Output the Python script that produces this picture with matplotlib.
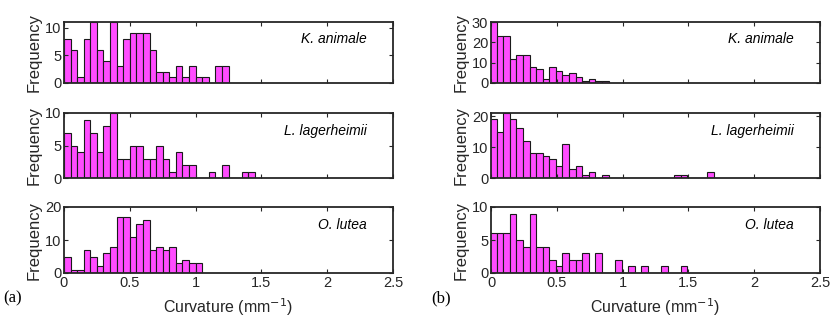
import numpy as np
import matplotlib
matplotlib.use("Agg")
import matplotlib.pyplot as plt

plt.rcParams['font.family'] = ['Liberation Sans', 'DejaVu Sans']

species = ['K. animale', 'L. lagerheimii', 'O. lutea']
bin_width = 0.05

# (a) counts per 0.05 bin, starting at 0
counts_a = [
    [8, 6, 1, 8, 11, 6, 4, 11, 3, 8, 9, 9, 9, 6, 2, 2, 1, 3, 1, 3, 1, 1, 0, 3, 3],
    [7, 5, 4, 9, 7, 4, 8, 10, 3, 3, 5, 5, 3, 3, 5, 3, 1, 4, 2, 2, 0, 0, 1, 0, 2, 0, 0, 1, 1],
    [5, 1, 1, 7, 5, 2, 6, 8, 17, 17, 11, 15, 16, 7, 8, 7, 8, 3, 4, 3, 3],
]
# (b) counts per 0.05 bin, first edge slightly below 0
counts_b = [
    [30, 23, 23, 12, 14, 14, 8, 7, 2, 8, 6, 4, 5, 3, 1, 2, 1, 1],
    [19, 15, 21, 19, 16, 12, 8, 8, 7, 6, 4, 11, 3, 4, 1, 2, 0, 1, 0, 0, 0, 0, 0, 0, 0,
     0, 0, 0, 1, 1, 0, 0, 0, 2],
    [6, 6, 6, 9, 5, 4, 9, 4, 4, 2, 1, 3, 2, 2, 3, 0, 3, 0, 0, 2, 0, 1, 0, 1, 0, 0, 1,
     0, 0, 1],
]
start_a = 0.0
start_b = -0.007

ylims_a = [11, 10, 20]
ylims_b = [30, 21, 10]
yticks_a = [[0, 5, 10], [0, 5, 10], [0, 10, 20]]
yticks_b = [[0, 10, 20, 30], [0, 10, 20], [0, 5, 10]]

xticks = [0, 0.5, 1, 1.5, 2, 2.5]
xticklabels = ['0', '0.5', '1', '1.5', '2', '2.5']

face = '#FF4CFF'
edge = '#1a1a1a'
axcol = '#262626'

fig = plt.figure(figsize=(8.31, 3.2), dpi=100)

# rows in pixels (top, bottom)
rows = [(22, 83), (113, 178), (207, 273)]
cols = [64, 491]
W, H = 831.0, 320.0
axw = 329


def draw_panel(ax, counts, start, ylim, yt, name, last):
    counts = np.array(counts)
    edges = start + bin_width * np.arange(len(counts) + 1)
    ax.hist(edges[:-1] + bin_width / 2, bins=edges, weights=counts,
            color=face, edgecolor=edge, linewidth=0.8)
    ax.set_xlim(0, 2.5)
    ax.set_ylim(0, ylim)
    ax.set_yticks(yt)
    ax.set_xticks(xticks)
    ax.tick_params(direction='in', top=True, right=True, length=3,
                   width=0.8, colors=axcol, labelsize=10.5, pad=2)
    for s in ax.spines.values():
        s.set_linewidth(1.3)
        s.set_color(axcol)
    if last:
        ax.set_xticklabels(xticklabels)
        ax.set_xlabel('Curvature (mm$^{-1}$)', fontsize=11.5, color=axcol,
                      labelpad=5)
    else:
        ax.set_xticklabels([])
    ax.set_ylabel('Frequency', fontsize=12, color=axcol, labelpad=2)
    ax.text(0.92, 0.72, name, transform=ax.transAxes, ha='right',
            va='center', style='italic', fontsize=10, color='black')


for c, (counts_set, start, ylims, yticks) in enumerate([
        (counts_a, start_a, ylims_a, yticks_a),
        (counts_b, start_b, ylims_b, yticks_b)]):
    for r in range(3):
        top, bot = rows[r]
        ax = fig.add_axes([cols[c] / W, 1 - bot / H, axw / W, (bot - top) / H])
        draw_panel(ax, counts_set[r], start, ylims[r], yticks[r], species[r],
                   r == 2)

fig.text(3 / W, 1 - 298 / H, '(a)', family='Liberation Serif', fontsize=12,
         va='center', ha='left')
fig.text(431 / W, 1 - 298 / H, '(b)', family='Liberation Serif', fontsize=12,
         va='center', ha='left')

fig.savefig('out.png', dpi=100)
